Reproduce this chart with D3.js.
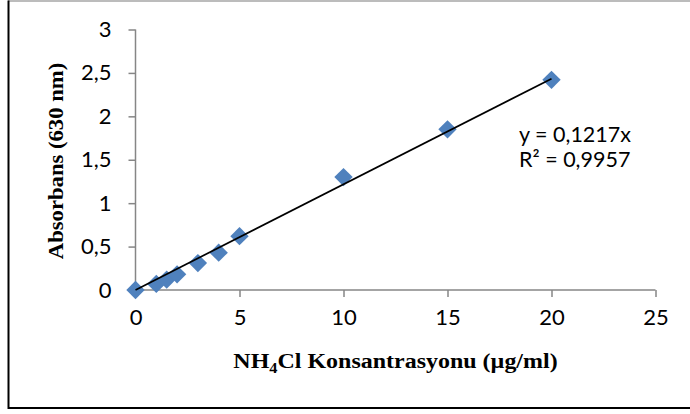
<!DOCTYPE html>
<html>
<head>
<meta charset="utf-8">
<script src="https://cdn.jsdelivr.net/npm/d3@7"></script>
<style>
  html, body { margin: 0; padding: 0; background: #fff; }
  svg { display: block; }
</style>
</head>
<body>
<svg id="chart" width="690" height="414"></svg>
<script>
// Calibration data: NH4Cl concentration (µg/ml) vs. absorbance at 630 nm
const concentration = [0, 1, 1.5, 2, 3, 4, 5, 10, 15, 20];
const absorbance    = [0, 0.07, 0.12, 0.18, 0.31, 0.43, 0.62, 1.30, 1.85, 2.42];

// Linear fit through the origin
const slope = 0.1217;
const rSquared = 0.9957;
const fitRange = [0, 20];

const xTicks = [0, 5, 10, 15, 20, 25];
const yTicks = [0, 0.5, 1, 1.5, 2, 2.5, 3];

const svg = d3.select("#chart");
const W = 690, H = 414;

// frame of the chart area
svg.append("line").attr("x1", 8).attr("x2", W).attr("y1", 1).attr("y2", 1)
  .attr("stroke", "#a6a6a6").attr("stroke-width", 1.5);
svg.append("line").attr("x1", 8.5).attr("x2", 8.5).attr("y1", 0.5).attr("y2", 409)
  .attr("stroke", "#000").attr("stroke-width", 2);
svg.append("line").attr("x1", 8).attr("x2", W).attr("y1", 408).attr("y2", 408)
  .attr("stroke", "#000").attr("stroke-width", 2);

const x = d3.scaleLinear().domain([0, 25]).range([135.5, 655.5]);
const y = d3.scaleLinear().domain([0, 3]).range([290, 29.5]);

const fmt = d => String(d).replace(".", ",");
const tickFont = "Lato, 'Open Sans', sans-serif";

// y axis
const yAxis = svg.append("g").attr("transform", `translate(${x(0)},0)`)
  .call(d3.axisLeft(y).tickValues(yTicks).tickFormat(fmt).tickSize(7).tickPadding(17));
// x axis
const xAxis = svg.append("g").attr("transform", `translate(0,${y(0)})`)
  .call(d3.axisBottom(x).tickValues(xTicks).tickFormat(fmt).tickSize(7).tickPadding(12));

[yAxis, xAxis].forEach(g => {
  g.select(".domain").attr("stroke", "#868686").attr("stroke-width", 1.5);
  g.selectAll(".tick line").attr("stroke", "#868686").attr("stroke-width", 1.5);
  g.selectAll(".tick text").attr("fill", "#000")
    .style("font-family", tickFont).style("font-size", "22px");
});
// axis lines without outer end caps
yAxis.select(".domain").attr("d", `M0,${y(3)}V${y(0)}`);
xAxis.select(".domain").attr("d", `M${x(0)},0H${x(25)}`);

// data markers (diamonds)
const diamond = d3.symbol().type(d3.symbolDiamond2).size(215);
svg.append("g").selectAll("path")
  .data(concentration.map((c, i) => [c, absorbance[i]]))
  .join("path")
  .attr("d", diamond)
  .attr("transform", d => `translate(${x(d[0])},${y(d[1])})`)
  .attr("fill", "#4f81bd");

// trendline over the markers
svg.append("line")
  .attr("x1", x(fitRange[0])).attr("y1", y(slope * fitRange[0]))
  .attr("x2", x(fitRange[1])).attr("y2", y(slope * fitRange[1]))
  .attr("stroke", "#000").attr("stroke-width", 1.7);

// equation label
const eq = svg.append("g").style("font-family", tickFont).style("font-size", "21.5px").attr("fill", "#000");
eq.append("text").attr("x", 519).attr("y", 142).text(`y = ${fmt(slope)}x`);
eq.append("text").attr("x", 519).attr("y", 167).text(`R² = ${fmt(rSquared)}`);

// axis titles
const titleFont = "'Liberation Serif', 'Times New Roman', serif";
const xt = svg.append("text")
  .attr("transform", `translate(${(x(0) + x(25)) / 2},368) scale(1.09,1)`)
  .attr("text-anchor", "middle")
  .style("font-family", titleFont).style("font-weight", "bold").style("font-size", "22px");
xt.append("tspan").text("NH");
xt.append("tspan").attr("dy", 5).style("font-size", "15px").text("4");
xt.append("tspan").attr("dy", -5).text("Cl Konsantrasyonu (µg/ml)");

svg.append("text")
  .attr("transform", `translate(63,161) rotate(-90) scale(1.03,1)`)
  .attr("text-anchor", "middle")
  .style("font-family", titleFont).style("font-weight", "bold").style("font-size", "22px")
  .text("Absorbans (630 nm)");
</script>
</body>
</html>
